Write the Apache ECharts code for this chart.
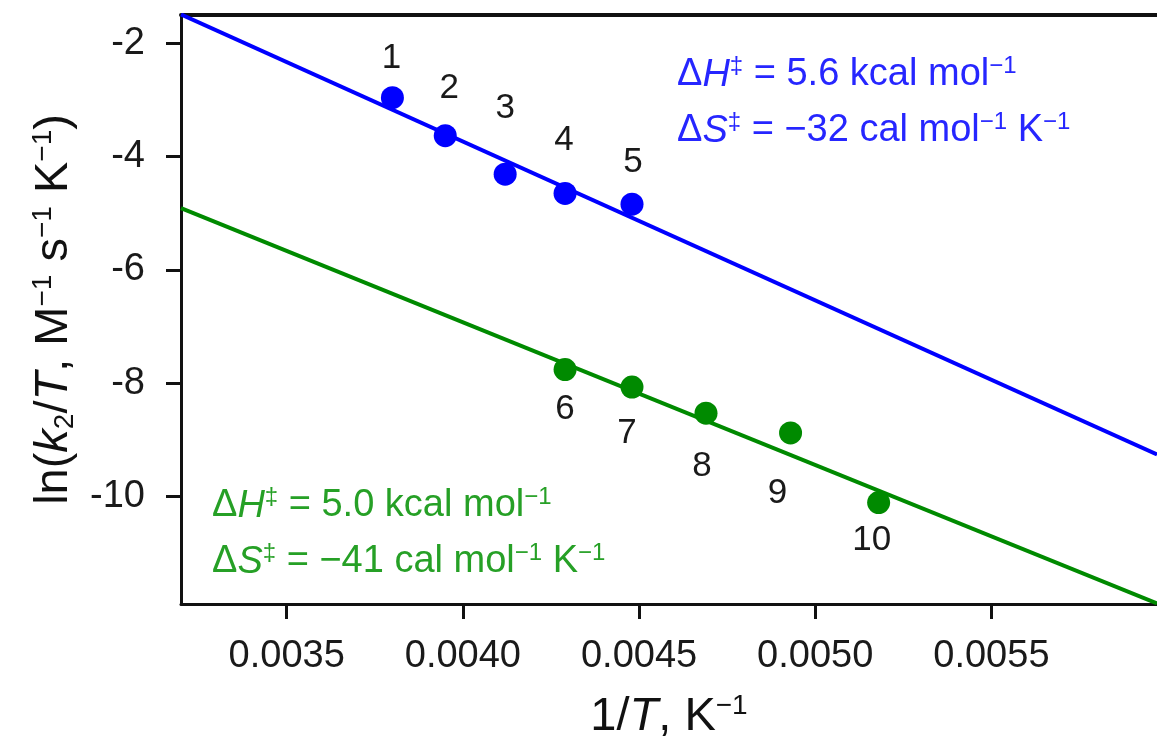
<!DOCTYPE html>
<html>
<head>
<meta charset="utf-8">
<script src="https://cdn.jsdelivr.net/npm/echarts@6/dist/echarts.min.js"></script>
<style>
  html, body { margin: 0; padding: 0; background: #fff; }
  #eyringChart { width: 1157px; height: 749px; }
</style>
</head>
<body>
<div id="eyringChart"></div>
<script>
// tick labels
const xTicks = [0.0035, 0.0040, 0.0045, 0.0050, 0.0055];
const yTicks = [-2, -4, -6, -8, -10];

// data (1/T, ln(k2/T))
const blueX = [0.00380, 0.00395, 0.00412, 0.00429, 0.00448];
const blueY = [-2.96, -3.63, -4.31, -4.65, -4.84];
const blueNames = ["1", "2", "3", "4", "5"];

const greenX = [0.00429, 0.00448, 0.00469, 0.00493, 0.00518];
const greenY = [-7.76, -8.07, -8.53, -8.88, -10.11];
const greenNames = ["6", "7", "8", "9", "10"];

// fitted lines, end points
const blueFitX = [0.0032, 0.00597];
const blueFitY = [-1.49, -9.26];
const greenFitX = [0.0032, 0.00597];
const greenFitY = [-4.91, -11.89];

// where the number labels sit relative to each point (px)
const blueLabelOffsets = [[-1, -39], [4, -47], [0, -66], [-1, -53], [1, -42]];
const greenLabelOffsets = [[0, 40], [-5, 46], [-4, 53], [-13, 60], [-7, 38]];

const BLUE = "#0000ff";
const GREEN = "#008a00";
const BLUE_TEXT = "#2626ff";
const GREEN_TEXT = "#26a026";
const FONT = "Liberation Sans, Arial, Helvetica, sans-serif";

function pairs(xs, ys) {
  return xs.map((x, i) => [x, ys[i]]);
}

function pointData(xs, ys, names, offsets) {
  return xs.map((x, i) => ({
    value: [x, ys[i]],
    name: names[i],
    label: { offset: offsets[i] },
  }));
}

function annoRich(color) {
  return {
    n: { fontSize: 38, fontFamily: FONT, fontWeight: "normal", color: color, lineHeight: 42 },
    i: { fontSize: 38, fontFamily: FONT, fontWeight: "normal", color: color, fontStyle: "italic", lineHeight: 42 },
    sup: { fontSize: 24, fontFamily: FONT, fontWeight: "normal", color: color, verticalAlign: "top", lineHeight: 22 },
  };
}

const chart = echarts.init(document.getElementById("eyringChart"));

const option = {
  backgroundColor: "#ffffff",
  animation: false,
  title: [
    {
      left: 672, top: 49,
      text: "{n|Δ}{i|H}{sup|‡}{n| = 5.6 kcal mol}{sup|−1}",
      textStyle: { rich: annoRich(BLUE_TEXT) },
    },
    {
      left: 672, top: 105,
      text: "{n|Δ}{i|S}{sup|‡}{n| = −32 cal mol}{sup|−1}{n| K}{sup|−1}",
      textStyle: { rich: annoRich(BLUE_TEXT) },
    },
    {
      left: 207, top: 480,
      text: "{n|Δ}{i|H}{sup|‡}{n| = 5.0 kcal mol}{sup|−1}",
      textStyle: { rich: annoRich(GREEN_TEXT) },
    },
    {
      left: 207, top: 536,
      text: "{n|Δ}{i|S}{sup|‡}{n| = −41 cal mol}{sup|−1}{n| K}{sup|−1}",
      textStyle: { rich: annoRich(GREEN_TEXT) },
    },
  ],
  grid: {
    left: 181,
    right: 0,
    top: 15,
    bottom: 145,
    containLabel: false,
  },
  xAxis: [
    {
      type: "value",
      min: 0.0032,
      max: 0.00597,
      name: "{n|1/}{i|T}{n|, K}{sup|−1}",
      nameLocation: "middle",
      nameGap: 88,
      nameTextStyle: {
        rich: {
          n: { fontSize: 47, fontFamily: FONT, color: "#111", lineHeight: 50 },
          i: { fontSize: 47, fontFamily: FONT, color: "#111", fontStyle: "italic", lineHeight: 50 },
          sup: { fontSize: 28, fontFamily: FONT, color: "#111", verticalAlign: "top", lineHeight: 28 },
        },
      },
      splitLine: { show: false },
      axisLine: { onZero: false, lineStyle: { color: "#111", width: 3 } },
      axisTick: {
        customValues: xTicks,
        length: 15,
        lineStyle: { color: "#111", width: 3 },
      },
      axisLabel: {
        customValues: xTicks,
        margin: 34,
        fontSize: 38,
        fontFamily: FONT,
        color: "#1a1a1a",
        formatter: (v) => v.toFixed(4),
      },
    },
    {
      // top frame line
      type: "value",
      position: "top",
      min: 0.0032,
      max: 0.00597,
      axisLine: { show: true, onZero: false, lineStyle: { color: "#111", width: 4 } },
      axisTick: { show: false },
      axisLabel: { show: false },
      splitLine: { show: false },
    },
  ],
  yAxis: {
    type: "value",
    min: -11.9,
    max: -1.5,
    name: "{n|ln(}{i|k}{sub|2}{n|/}{i|T}{n|, M}{sup|−1}{n| s}{sup|−1}{n| K}{sup|−1}{n|)}",
    nameLocation: "middle",
    nameRotate: 90,
    nameGap: 102,
    nameTextStyle: {
      rich: {
        n: { fontSize: 47, fontFamily: FONT, color: "#111", lineHeight: 50 },
        i: { fontSize: 47, fontFamily: FONT, color: "#111", fontStyle: "italic", lineHeight: 50 },
        sup: { fontSize: 28, fontFamily: FONT, color: "#111", verticalAlign: "top", lineHeight: 28 },
        sub: { fontSize: 28, fontFamily: FONT, color: "#111", verticalAlign: "bottom", lineHeight: 28 },
      },
    },
    splitLine: { show: false },
    axisLine: { show: true, onZero: false, lineStyle: { color: "#111", width: 3 } },
    axisTick: {
      show: true,
      customValues: yTicks,
      length: 15,
      lineStyle: { color: "#111", width: 3 },
    },
    axisLabel: {
      customValues: yTicks,
      margin: 36,
      fontSize: 38,
      fontFamily: FONT,
      color: "#1a1a1a",
      formatter: (v) => String(v),
    },
  },
  series: [
    {
      name: "blue fit",
      type: "line",
      data: pairs(blueFitX, blueFitY),
      symbol: "none",
      lineStyle: { color: BLUE, width: 4 },
      z: 2,
    },
    {
      name: "green fit",
      type: "line",
      data: pairs(greenFitX, greenFitY),
      symbol: "none",
      lineStyle: { color: GREEN, width: 4 },
      z: 2,
    },
    {
      name: "blue points",
      type: "scatter",
      data: pointData(blueX, blueY, blueNames, blueLabelOffsets),
      symbolSize: 23,
      itemStyle: { color: BLUE, opacity: 1 },
      label: {
        show: true,
        position: "inside",
        formatter: "{b}",
        fontSize: 35,
        fontFamily: FONT,
        color: "#1a1a1a",
      },
      z: 3,
    },
    {
      name: "green points",
      type: "scatter",
      data: pointData(greenX, greenY, greenNames, greenLabelOffsets),
      symbolSize: 23,
      itemStyle: { color: GREEN, opacity: 1 },
      label: {
        show: true,
        position: "inside",
        formatter: "{b}",
        fontSize: 35,
        fontFamily: FONT,
        color: "#1a1a1a",
      },
      z: 3,
    },
  ],
};

chart.setOption(option);
</script>
</body>
</html>
